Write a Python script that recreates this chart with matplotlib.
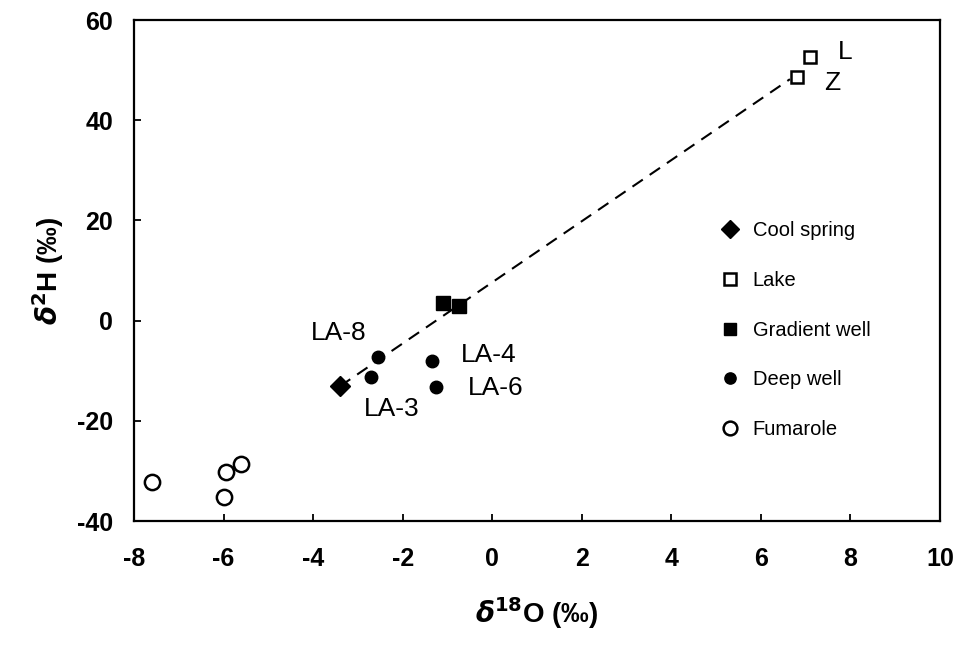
import matplotlib
matplotlib.use("Agg")
import matplotlib.pyplot as plt

plt.rcParams['font.family'] = ['Liberation Sans', 'DejaVu Sans']
plt.rcParams['axes.unicode_minus'] = False

# data (d18O, d2H)
spring_x = [-3.4]
spring_y = [-13.1]
lake_x = [6.8, 7.1]
lake_y = [48.6, 52.6]
grad_x = [-1.1, -0.75]
grad_y = [3.6, 2.9]
deep_x = [-2.7, -2.55, -1.35, -1.25]
deep_y = [-11.3, -7.3, -8.1, -13.3]
fum_x = [-7.6, -5.95, -5.6, -6.0]
fum_y = [-32.2, -30.2, -28.6, -35.2]
line_x = [-3.4, 6.65]
line_y = [-13.1, 48.2]

fig = plt.figure(figsize=(9.61, 6.47), dpi=100)
ax = fig.add_axes([0.1394, 0.1947, 0.8387, 0.7743])

ax.plot(line_x, line_y, color='black', ls=(0, (6, 4)), lw=1.5, zorder=1)

ax.plot(spring_x, spring_y, 'D', color='black', ms=10, ls='none', label='Cool spring')
ax.plot(lake_x, lake_y, 's', mfc='white', mec='black', mew=1.8, ms=9, ls='none', label='Lake')
ax.plot(grad_x, grad_y, 's', color='black', ms=9.5, ls='none', label='Gradient well')
ax.plot(deep_x, deep_y, 'o', color='black', ms=9, ls='none', label='Deep well')
ax.plot(fum_x, fum_y, 'o', mfc='white', mec='black', mew=1.8, ms=11, ls='none', label='Fumarole')

# sample labels
fs = 19
ax.text(-3.43, -2.5, 'LA-8', fontsize=fs, ha='center', va='center')
ax.text(-2.25, -17.6, 'LA-3', fontsize=fs, ha='center', va='center')
ax.text(-0.69, -6.9, 'LA-4', fontsize=fs, ha='left', va='center')
ax.text(-0.54, -13.5, 'LA-6', fontsize=fs, ha='left', va='center')
ax.text(7.88, 53.6, 'L', fontsize=fs, ha='center', va='center')
ax.text(7.59, 47.4, 'Z', fontsize=fs, ha='center', va='center')

ax.set_xlim(-8, 10)
ax.set_ylim(-40, 60)
ax.set_xticks(range(-8, 11, 2))
ax.set_yticks(range(-40, 61, 20))
ax.tick_params(direction='in', length=5, width=1.3, labelsize=18)
ax.tick_params(axis='x', pad=19)
ax.tick_params(axis='y', pad=15)
for lab in ax.get_xticklabels() + ax.get_yticklabels():
    lab.set_fontweight('bold')
for s in ax.spines.values():
    s.set_linewidth(1.6)

ax.set_xlabel(r'$\boldsymbol{\delta}^{\mathbf{18}}$O (‰)', fontsize=20, fontweight='bold', labelpad=17)
ax.set_ylabel(r'$\boldsymbol{\delta}^{\mathbf{2}}$H (‰)', fontsize=20, fontweight='bold', labelpad=8)

ax.legend(loc='upper left', bbox_to_anchor=(0.725, 0.598), frameon=False, fontsize=14.5,
          borderaxespad=0, borderpad=0, labelspacing=1.52, handletextpad=0.5,
          handlelength=1.2, markerscale=0.9)

fig.savefig('out.png', dpi=100)
